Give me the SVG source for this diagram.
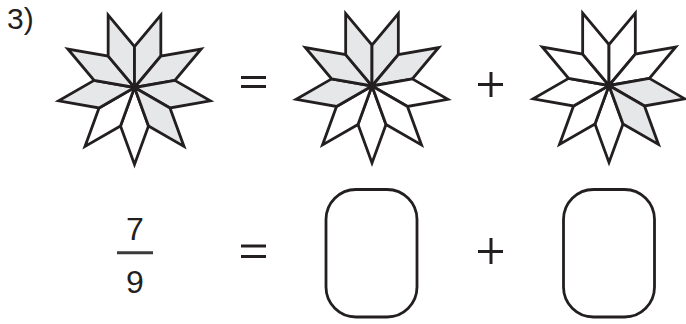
<svg xmlns="http://www.w3.org/2000/svg" xmlns:xlink="http://www.w3.org/1999/xlink" width="686" height="324" viewBox="0 0 686 324">
<style>
.g{fill:#e6e7e8}
.w{fill:#ffffff}
.r{stroke:#231f20;stroke-width:2.8;stroke-linejoin:miter}
.op{stroke:#231f20;stroke-width:3;fill:none}
.t{font-family:"Liberation Sans",Arial,sans-serif;fill:#231f20}
.box{fill:#ffffff;stroke:#231f20;stroke-width:2.8}
</style>
<defs>
<path id="rh" d="M0,0 L-14.01,38.5 L0,77 L14.01,38.5 Z"/>
</defs>
<rect width="686" height="324" fill="#ffffff"/>
<g id="label"><text class="t" x="7" y="28.5" font-size="30">3)</text></g>
<g id="star1" class="r" transform="translate(134.5,87.5)">
<use xlink:href="#rh" class="w" transform="rotate(0)"/>
<use xlink:href="#rh" class="w" transform="rotate(40)"/>
<use xlink:href="#rh" class="g" transform="rotate(80)"/>
<use xlink:href="#rh" class="g" transform="rotate(120)"/>
<use xlink:href="#rh" class="g" transform="rotate(160)"/>
<use xlink:href="#rh" class="g" transform="rotate(200)"/>
<use xlink:href="#rh" class="g" transform="rotate(240)"/>
<use xlink:href="#rh" class="g" transform="rotate(280)"/>
<use xlink:href="#rh" class="g" transform="rotate(320)"/>
</g>
<g id="eq1"><line class="op" x1="241" y1="77.5" x2="266" y2="77.5"/><line class="op" x1="241" y1="86.5" x2="266" y2="86.5"/></g>
<g id="star2" class="r" transform="translate(372,86)">
<use xlink:href="#rh" class="w" transform="rotate(0)"/>
<use xlink:href="#rh" class="w" transform="rotate(40)"/>
<use xlink:href="#rh" class="g" transform="rotate(80)"/>
<use xlink:href="#rh" class="g" transform="rotate(120)"/>
<use xlink:href="#rh" class="g" transform="rotate(160)"/>
<use xlink:href="#rh" class="g" transform="rotate(200)"/>
<use xlink:href="#rh" class="g" transform="rotate(240)"/>
<use xlink:href="#rh" class="w" transform="rotate(280)"/>
<use xlink:href="#rh" class="w" transform="rotate(320)"/>
</g>
<g id="plus1"><line class="op" x1="478" y1="84.5" x2="503" y2="84.5"/><line class="op" x1="491" y1="72" x2="491" y2="97"/></g>
<g id="star3" class="r" transform="translate(609,85.5)">
<use xlink:href="#rh" class="w" transform="rotate(0)"/>
<use xlink:href="#rh" class="w" transform="rotate(40)"/>
<use xlink:href="#rh" class="w" transform="rotate(80)"/>
<use xlink:href="#rh" class="w" transform="rotate(120)"/>
<use xlink:href="#rh" class="w" transform="rotate(160)"/>
<use xlink:href="#rh" class="w" transform="rotate(200)"/>
<use xlink:href="#rh" class="w" transform="rotate(240)"/>
<use xlink:href="#rh" class="g" transform="rotate(280)"/>
<use xlink:href="#rh" class="g" transform="rotate(320)"/>
</g>
<g id="fraction">
<text class="t" x="135" y="240" font-size="32" text-anchor="middle">7</text>
<line x1="117" y1="252.7" x2="153" y2="252.7" stroke="#3a3a3a" stroke-width="3"/>
<text class="t" x="135" y="293" font-size="32" text-anchor="middle">9</text>
</g>
<g id="eq2"><line class="op" x1="241" y1="246" x2="266" y2="246"/><line class="op" x1="241" y1="256.5" x2="266" y2="256.5"/></g>
<g id="box1"><rect class="box" x="326" y="189.5" width="91" height="127.5" rx="30" ry="30"/></g>
<g id="plus2"><line class="op" x1="478" y1="251.5" x2="503" y2="251.5"/><line class="op" x1="491" y1="238" x2="491" y2="264"/></g>
<g id="box2"><rect class="box" x="563.5" y="189.5" width="91" height="127.5" rx="30" ry="30"/></g>
</svg>
